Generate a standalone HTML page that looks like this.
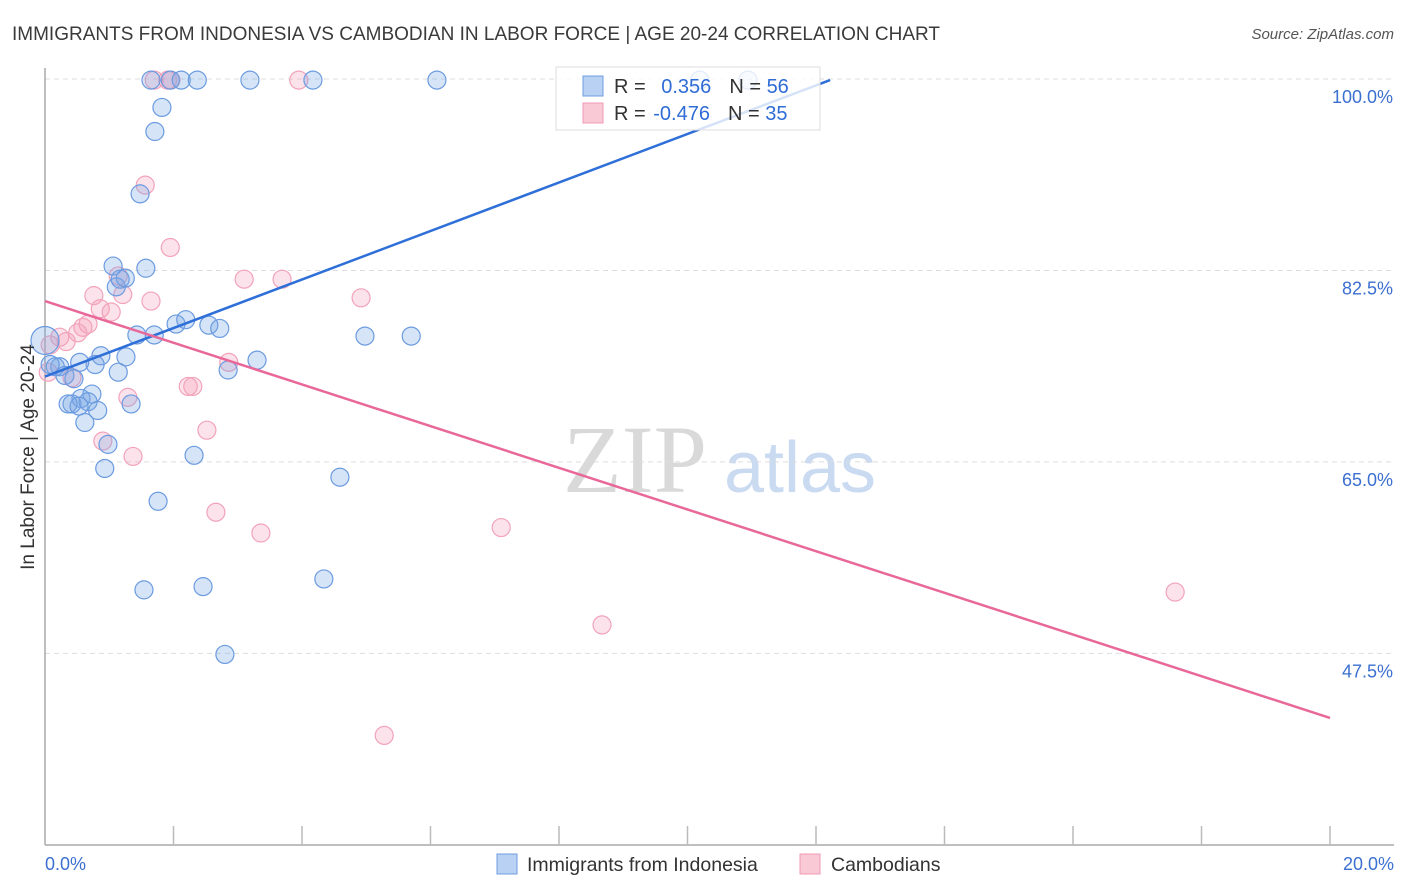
<!DOCTYPE html>
<html><head><meta charset="utf-8"><style>
body{margin:0;background:#fff;font-family:"Liberation Sans",sans-serif;}
svg{display:block}
</style></head><body>
<svg id="chart" width="1406" height="892" xmlns="http://www.w3.org/2000/svg">
<text x="12" y="40" font-size="19" fill="#3a3a3a">IMMIGRANTS FROM INDONESIA VS CAMBODIAN IN LABOR FORCE | AGE 20-24 CORRELATION CHART</text>
<text x="1394" y="39" font-size="15" font-style="italic" fill="#555" text-anchor="end">Source: ZipAtlas.com</text>
<g>
<text x="635" y="492" font-size="96" font-family="Liberation Serif" fill="#d9d9d9" text-anchor="middle">ZIP</text>
<text x="800" y="492" font-size="72" fill="#c9daf1" text-anchor="middle">atlas</text>
</g>
<g id="grid"></g>
<g id="axes"></g>
<g id="pts"></g>
<g id="lines"></g>
<text transform="translate(34,457) rotate(-90)" font-size="19" fill="#333" text-anchor="middle">In Labor Force | Age 20-24</text>
<g>
<rect x="556" y="67" width="264" height="63" fill="#fff" fill-opacity="0.8" stroke="#ddd"/>
<rect x="583" y="76" width="20" height="20" fill="#b9d1f3" stroke="#6f9de0"/>
<rect x="583" y="103" width="20" height="20" fill="#f9c9d6" stroke="#f09ab4"/>
<text x="614" y="93" font-size="20" fill="#333">R = <tspan fill="#2f6cd6" dx="10">0.356</tspan><tspan fill="#333" dx="18">N = </tspan><tspan fill="#2f6cd6">56</tspan></text>
<text x="614" y="120" font-size="20" fill="#333">R = <tspan fill="#2f6cd6" dx="2">-0.476</tspan><tspan fill="#333" dx="18">N = </tspan><tspan fill="#2f6cd6">35</tspan></text>
</g>
<g>
<rect x="497" y="854" width="20" height="20" fill="#b9d1f3" stroke="#6f9de0"/>
<text x="527" y="871" font-size="19.5" fill="#333">Immigrants from Indonesia</text>
<rect x="800" y="854" width="20" height="20" fill="#f9c9d6" stroke="#f09ab4"/>
<text x="831" y="871" font-size="19.5" fill="#333">Cambodians</text>
</g>
</svg>
<script>
const yTicks=[100,82.5,65,47.5];
const yTickLabels=["100.0%","82.5%","65.0%","47.5%"];
const xTickLabels=["0.0%","20.0%"];
const blueX=[1.65,1.95,2.12,2.37,3.19,4.17,6.10,1.82,1.71,1.48,1.06,1.57,1.25,1.11,1.17,1.43,1.70,2.04,2.19,2.55,2.72,3.30,2.85,0.87,1.26,1.14,0.78,0.54,0.23,0.16,0.08,0.31,0.45,0.73,0.56,0.42,0.36,0.67,0.53,0.82,0.62,1.34,0.98,0.93,2.32,1.76,1.54,2.46,2.80,4.34,4.59,4.98,5.70,0.0,10.94,10.19];
const blueY=[99.9,99.9,99.9,99.9,99.9,99.9,99.9,97.4,95.2,89.5,82.9,82.7,81.8,81.0,81.7,76.6,76.6,77.6,78.0,77.5,77.2,74.3,73.4,74.7,74.6,73.2,73.9,74.1,73.7,73.7,73.9,72.9,72.6,71.2,70.8,70.3,70.3,70.5,70.1,69.7,68.6,70.3,66.6,64.4,65.6,61.4,53.3,53.6,47.4,54.3,63.6,76.5,76.5,76.1,99.9,99.9];
const pinkX=[1.70,1.96,1.91,3.95,1.56,1.95,3.10,3.69,4.92,1.21,0.76,0.86,1.03,1.65,1.14,0.67,0.59,0.51,0.23,0.33,0.08,0.05,0.42,2.86,2.23,2.30,1.29,2.52,0.90,1.37,2.66,3.36,7.10,8.67,17.59,5.28];
const pinkY=[99.9,99.9,99.9,99.9,90.3,84.6,81.7,81.7,80.0,80.3,80.2,79.0,78.7,79.7,82.0,77.6,77.3,76.8,76.4,76.0,75.7,73.2,72.7,74.1,71.9,71.9,70.9,67.9,66.9,65.5,60.4,58.5,59.0,50.1,53.1,40.0];
const blueLine=[72.8,99.9];
const blueLineX=[0,12.22];
const pinkLine=[79.7,41.6];
const pinkLineX=[0,20];
const NS="http://www.w3.org/2000/svg";
const X=v=>45+v*64.25;
const Y=v=>79+(100-v)*10.94;
function mk(tag,attrs,parent){const e=document.createElementNS(NS,tag);for(const k in attrs)e.setAttribute(k,attrs[k]);document.getElementById(parent).appendChild(e);return e;}
yTicks.forEach((t,i)=>{
 const g=mk('line',{x1:45,x2:1394,y1:Y(t),y2:Y(t),stroke:'#ddd','stroke-dasharray':'5,4'},'grid');
 
 
 const l=mk('text',{x:1393,y:Y(t)+24,'font-size':18,fill:'#3b6fd0','text-anchor':'end'},'axes');
 l.textContent=yTickLabels[i];
 
 
});
const ya=mk('line',{x1:45,x2:45,y1:68,y2:845,stroke:'#aaa','stroke-width':1.5},'axes');


const xa=mk('line',{x1:45,x2:1394,y1:845,y2:845,stroke:'#aaa','stroke-width':1.5},'axes');


for(let i=1;i<=10;i++){
 const t=mk('line',{x1:X(i*2),x2:X(i*2),y1:826,y2:845,stroke:'#bbb','stroke-width':1.5},'axes');
 
 
}
[[0,'start',45],[20,'end',1394]].forEach((d,i)=>{
 const l=mk('text',{x:d[2],y:870,'font-size':18,fill:'#3b6fd0','text-anchor':d[1]},'axes');
 l.textContent=xTickLabels[i];
 
 
});
pinkX.forEach((v,i)=>{
 const c=mk('circle',{cx:X(v),cy:Y(pinkY[i]),r:9,fill:'rgba(245,160,185,0.3)',stroke:'#f2a3ba','stroke-width':1.2},'pts');
 
 
});
blueX.forEach((v,i)=>{
 const c=mk('circle',{cx:X(v),cy:Y(blueY[i]),r:v===0?14:9,fill:'rgba(120,165,230,0.3)',stroke:'#6b9be0','stroke-width':1.2},'pts');
 
 
});
const bl=mk('line',{x1:X(blueLineX[0]),y1:Y(blueLine[0]),x2:X(blueLineX[1]),y2:Y(blueLine[1]),stroke:'#2f6fd8','stroke-width':2.5},'lines');


const pl=mk('line',{x1:X(pinkLineX[0]),y1:Y(pinkLine[0]),x2:X(pinkLineX[1]),y2:Y(pinkLine[1]),stroke:'#e8689a','stroke-width':2.5},'lines');


</script>
</body></html>
